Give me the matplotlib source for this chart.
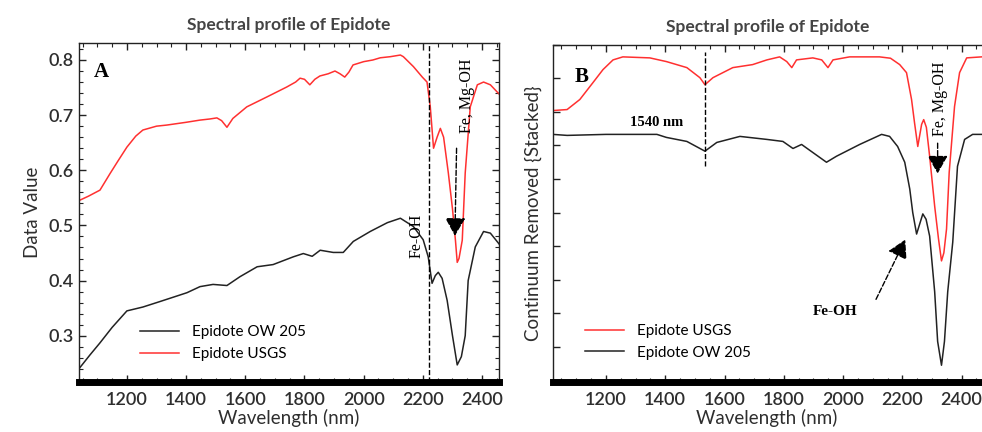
import matplotlib
matplotlib.use('Agg')
import matplotlib.pyplot as plt
import matplotlib.ticker as mticker

plt.rcParams['font.family'] = ['Lato', 'DejaVu Sans']

# Panel A - reflectance (Data Value)
wl_usgs_a = [1038, 1070, 1109, 1143, 1170, 1200, 1230, 1254, 1300, 1335, 1400, 1447, 1480,
             1504, 1520, 1538, 1558, 1605, 1673, 1740, 1770, 1785, 1800, 1818, 1835, 1852,
             1880, 1903, 1920, 1936, 1950, 1964, 2000, 2031, 2056, 2090, 2124, 2134, 2168,
             2198, 2214, 2225, 2236, 2248, 2259, 2270, 2286, 2300, 2310, 2316, 2322, 2333,
             2343, 2360, 2384, 2405, 2428, 2458]
val_usgs_a = [0.545, 0.553, 0.564, 0.594, 0.617, 0.642, 0.662, 0.673, 0.680, 0.682, 0.687,
              0.691, 0.693, 0.695, 0.690, 0.678, 0.694, 0.715, 0.733, 0.751, 0.760, 0.767,
              0.765, 0.755, 0.765, 0.771, 0.775, 0.780, 0.775, 0.769, 0.778, 0.791, 0.797,
              0.800, 0.804, 0.806, 0.809, 0.806, 0.788, 0.769, 0.760, 0.715, 0.640, 0.660,
              0.676, 0.660, 0.595, 0.530, 0.473, 0.433, 0.440, 0.473, 0.595, 0.715, 0.755,
              0.760, 0.755, 0.738]

wl_ow_a = [1038, 1075, 1109, 1150, 1200, 1254, 1312, 1369, 1403, 1447, 1491, 1538, 1582,
           1640, 1694, 1762, 1796, 1826, 1853, 1897, 1931, 1965, 2022, 2080, 2124, 2168,
           2201, 2218, 2231, 2242, 2252, 2265, 2282, 2300, 2316, 2330, 2343, 2353, 2377,
           2405, 2428, 2458]
val_ow_a = [0.240, 0.265, 0.287, 0.315, 0.345, 0.352, 0.362, 0.372, 0.378, 0.389, 0.393,
            0.391, 0.407, 0.425, 0.429, 0.443, 0.449, 0.444, 0.455, 0.451, 0.451, 0.471,
            0.489, 0.505, 0.513, 0.498, 0.474, 0.443, 0.395, 0.409, 0.415, 0.404, 0.364,
            0.300, 0.247, 0.262, 0.300, 0.400, 0.461, 0.489, 0.486, 0.466]

# Panel B - continuum removed, stacked
wl_usgs_b = [1021, 1069, 1112, 1156, 1190, 1224, 1257, 1348, 1404, 1473, 1517, 1534, 1561,
             1628, 1695, 1743, 1786, 1810, 1827, 1843, 1898, 1928, 1949, 1966, 2022, 2123,
             2160, 2191, 2214, 2231, 2241, 2252, 2265, 2272, 2281, 2292, 2309, 2322, 2332,
             2340, 2349, 2358, 2376, 2393, 2417, 2467]
val_usgs_b = [0.804, 0.807, 0.837, 0.887, 0.926, 0.955, 0.964, 0.961, 0.950, 0.932, 0.902,
              0.881, 0.902, 0.932, 0.941, 0.955, 0.964, 0.950, 0.932, 0.955, 0.961, 0.955,
              0.932, 0.955, 0.964, 0.964, 0.960, 0.941, 0.917, 0.837, 0.768, 0.697, 0.763,
              0.777, 0.754, 0.668, 0.519, 0.421, 0.356, 0.380, 0.451, 0.620, 0.816, 0.917,
              0.961, 0.964]

wl_ow_b = [1021, 1069, 1200, 1300, 1372, 1404, 1473, 1534, 1574, 1652, 1743, 1797, 1831,
           1860, 1898, 1944, 1978, 2056, 2130, 2157, 2184, 2208, 2225, 2235, 2248, 2269,
           2280, 2292, 2309, 2319, 2332, 2342, 2353, 2370, 2386, 2410, 2437, 2467]
val_ow_b = [0.733, 0.730, 0.733, 0.733, 0.733, 0.724, 0.712, 0.683, 0.709, 0.727, 0.718,
            0.712, 0.691, 0.703, 0.679, 0.650, 0.668, 0.703, 0.733, 0.727, 0.697, 0.650,
            0.570, 0.500, 0.436, 0.496, 0.480, 0.430, 0.264, 0.116, 0.045, 0.116, 0.264,
            0.412, 0.638, 0.718, 0.733, 0.733]

RED = '#ff3030'
TXT = '#2e2e2e'
SERIF = 'Liberation Serif'
ARROW = '-|>,head_length=0.8,head_width=0.45'


def style_axes(ax, right_ticks):
    for side in ['top', 'left', 'right']:
        ax.spines[side].set_linewidth(1.0)
        ax.spines[side].set_color('#222222')
    ax.spines['bottom'].set_linewidth(5)
    ax.spines['bottom'].set_color('black')
    ax.xaxis.set_major_locator(mticker.MultipleLocator(200))
    ax.xaxis.set_minor_locator(mticker.MultipleLocator(50))
    ax.tick_params(which='both', direction='in', top=True, right=right_ticks,
                   colors='#222222', labelcolor=TXT, labelsize=13)
    ax.tick_params(which='major', length=5, width=1)
    ax.tick_params(which='minor', length=3, width=0.8)
    ax.tick_params(axis='x', which='major', pad=7)
    for lab in ax.get_xticklabels() + ax.get_yticklabels():
        lab.set_fontweight('semibold')
    ax.set_xlabel('Wavelength (nm)', fontsize=13.5, color=TXT, labelpad=1)
    ax.set_title('Spectral profile of Epidote', fontsize=12.5, color='#444444',
                 fontweight='bold', pad=9)


fig = plt.figure(figsize=(9.82, 4.32), dpi=100)

# ---- panel A ----
ax1 = fig.add_axes([0.0804, 0.1157, 0.428, 0.785])
l_ow, = ax1.plot(wl_ow_a, val_ow_a, color='#222222', lw=1.1, label='Epidote OW 205')
l_us, = ax1.plot(wl_usgs_a, val_usgs_a, color=RED, lw=1.1, label='Epidote USGS')
ax1.set_xlim(1038, 2458)
ax1.set_ylim(0.216, 0.831)
ax1.yaxis.set_major_locator(mticker.MultipleLocator(0.1))
ax1.yaxis.set_minor_locator(mticker.MultipleLocator(0.02))
style_axes(ax1, True)
ax1.set_ylabel('Data Value', fontsize=13.5, color=TXT, labelpad=6)
ax1.legend(handles=[l_ow, l_us], loc='upper left', bbox_to_anchor=(0.13, 0.185),
           frameon=False, fontsize=11, handlelength=2.6, labelspacing=0.5,
           borderaxespad=0)

ax1.axvline(2222, color='black', ls='--', lw=1)
ax1.text(1115, 0.778, 'A', family=SERIF, fontweight='bold', fontsize=15,
         ha='center', va='center')
ax1.text(2178, 0.481, 'Fe-OH', family=SERIF, fontsize=11.5, rotation=90,
         ha='center', va='center')
ax1.text(2350, 0.736, 'Fe, Mg-OH', family=SERIF, fontsize=11.5, rotation=90,
         ha='center', va='center')
ax1.annotate('', xy=(2308, 0.476), xytext=(2314, 0.645),
             arrowprops=dict(arrowstyle=ARROW, mutation_scale=14, ls='--', lw=1,
                             color='black'))

# ---- panel B ----
ax2 = fig.add_axes([0.563, 0.1157, 0.4365, 0.7806])
l_us2, = ax2.plot(wl_usgs_b, val_usgs_b, color=RED, lw=1.1, label='Epidote USGS')
l_ow2, = ax2.plot(wl_ow_b, val_ow_b, color='#222222', lw=1.1, label='Epidote OW 205')
ax2.set_xlim(1021, 2467)
ax2.set_ylim(-0.005, 1.0)
ax2.yaxis.set_major_locator(mticker.MultipleLocator(0.1))
ax2.yaxis.set_minor_locator(mticker.NullLocator())
style_axes(ax2, False)
ax2.spines['right'].set_visible(False)
ax2.tick_params(axis='y', labelleft=False)
ax2.set_ylabel('Continuum Removed {Stacked}', fontsize=13.5, color=TXT, labelpad=8)
ax2.legend(handles=[l_us2, l_ow2], loc='upper left', bbox_to_anchor=(0.06, 0.19),
           frameon=False, fontsize=11, handlelength=2.6, labelspacing=0.5,
           borderaxespad=0)

ax2.plot([1534, 1534], [0.638, 0.979], color='black', ls='--', lw=1)
ax2.text(1119, 0.905, 'B', family=SERIF, fontweight='bold', fontsize=15,
         ha='center', va='center')
ax2.text(1372, 0.769, '1540 nm', family=SERIF, fontweight='bold', fontsize=10.5,
         ha='center', va='center')
ax2.text(2326, 0.84, 'Fe, Mg-OH', family=SERIF, fontsize=11.5, rotation=90,
         ha='center', va='center')
ax2.annotate('', xy=(2319, 0.608), xytext=(2319, 0.715),
             arrowprops=dict(arrowstyle=ARROW, mutation_scale=14, ls='--', lw=1,
                             color='black'))
ax2.text(1972, 0.205, 'Fe-OH', family=SERIF, fontweight='bold', fontsize=11,
         ha='center', va='center')
ax2.annotate('', xy=(2214, 0.427), xytext=(2107, 0.234),
             arrowprops=dict(arrowstyle=ARROW, mutation_scale=14, ls='--', lw=1,
                             color='black'))

fig.savefig('out.png', dpi=100)
